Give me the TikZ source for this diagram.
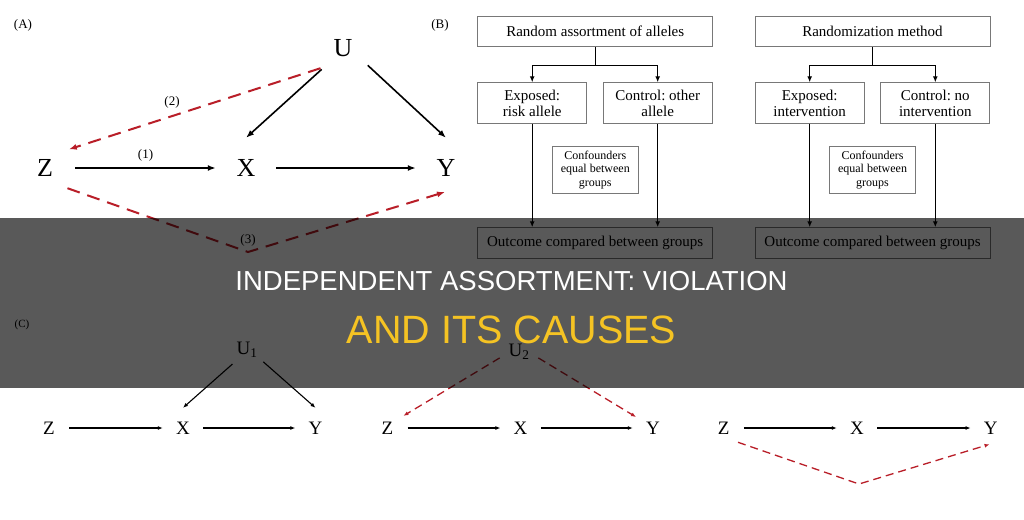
\documentclass[tikz,border=0pt]{standalone}
\usepackage{fontspec}
\setmainfont{Liberation Serif}
\newfontfamily\bannerfont{Liberation Sans}
\usepackage{xcolor}
\usetikzlibrary{arrows.meta}
\definecolor{dashred}{RGB}{185,30,40}
\definecolor{boxgray}{RGB}{120,120,120}
\definecolor{titleyellow}{RGB}{245,195,35}
\frenchspacing

\begin{document}
\begin{tikzpicture}[x=1pt,y=-1pt,
		bigvar/.style={circle,minimum size=60pt,inner sep=0pt,font=\fontsize{26}{26}\selectfont},
		smallvar/.style={circle,minimum size=40pt,inner sep=0pt,font=\fontsize{19}{19}\selectfont},
		tag/.style={inner sep=1pt,text=black,font=\fontsize{13}{13}\selectfont},
		blkarrow/.style={line width=1.6pt,-{Latex[length=8pt,width=6pt]}},
		redarrow/.style={dashred,line width=2pt,dash pattern=on 13pt off 8pt,-{Latex[length=8pt,width=6pt]}},
		thinarrow/.style={line width=1.1pt,-{Latex[length=5pt,width=4pt]}},
		thinred/.style={dashred,line width=1.3pt,dash pattern=on 8pt off 5pt,-{Latex[length=5pt,width=4pt]}},
		flowbox/.style={draw=boxgray,line width=0.8pt,rectangle,inner sep=0pt,align=center,font=\fontsize{15}{16}\selectfont},
		topbox/.style={flowbox,minimum width=235pt,minimum height=30.7pt},
		armbox/.style={flowbox,minimum width=109pt,minimum height=40.6pt},
		notebox/.style={flowbox,minimum width=86pt,minimum height=47.3pt,font=\fontsize{12}{13.6}\selectfont},
		flowarrow/.style={line width=1.3pt,-{Latex[length=6pt,width=5pt]}}]
		
		\useasboundingbox[fill=white] (0,0) rectangle (1024,519);
		
		% (A)
		\node[tag] (labA) at (23,25) {(A)};
		\node[bigvar] (UA) at (343,48) {U};
		\node[bigvar] (ZA) at (45,168) {Z};
		\node[bigvar] (XA) at (246,168) {X};
		\node[bigvar] (YA) at (446,168) {Y};
		\coordinate (vA) at (248,252);
		\coordinate (tipA) at (445,192);
		
		\draw[blkarrow] (ZA) -- node[tag,above=5pt] {(1)} (XA);
		\draw[blkarrow] (XA) -- (YA);
		\draw[blkarrow] (UA.225) -- (XA.90);
		\draw[blkarrow] (UA.-35) -- (YA.90);
		
		\draw[redarrow] (UA.222) -- node[tag,pos=0.59,above=6pt] {(2)} (ZA.38);
		\draw[redarrow] (ZA.-42) -- (vA) node[tag,above=4pt] {(3)} -- (tipA);
		
		% (B)
		\node[tag] (labB) at (440,25) {(B)};
		\node[topbox] (rand1) at (595.2,31.3) {Random assortment of alleles};
		\node[armbox] (exp1) at (532.2,103) {Exposed:\\risk allele};
		\node[armbox] (ctl1) at (657.7,103) {Control: other\\allele};
		\node[notebox] (conf1) at (595.3,169.7) {Confounders\\equal between\\groups};
		\node[topbox] (out1) at (595.2,243) {Outcome compared between groups};
		
		\draw[flowarrow] (rand1.south) -- ++(0,18.3) -| (exp1.north);
		\draw[flowarrow] (rand1.south) -- ++(0,18.3) -| (ctl1.north);
		\draw[flowarrow] (exp1.south) -- (exp1.south |- out1.north);
		\draw[flowarrow] (ctl1.south) -- (ctl1.south |- out1.north);
		
		\node[topbox] (rand2) at (872.5,31.3) {Randomization method};
		\node[armbox] (exp2) at (809.7,103) {Exposed:\\intervention};
		\node[armbox] (ctl2) at (935.3,103) {Control: no\\intervention};
		\node[notebox] (conf2) at (872.5,169.7) {Confounders\\equal between\\groups};
		\node[topbox] (out2) at (872.5,243) {Outcome compared between groups};
		
		\draw[flowarrow] (rand2.south) -- ++(0,18.3) -| (exp2.north);
		\draw[flowarrow] (rand2.south) -- ++(0,18.3) -| (ctl2.north);
		\draw[flowarrow] (exp2.south) -- (exp2.south |- out2.north);
		\draw[flowarrow] (ctl2.south) -- (ctl2.south |- out2.north);
		
		% (C)
		\node[tag,font=\fontsize{11}{11}\selectfont] (labC) at (22,325) {(C)};
		
		\node[smallvar] (UC1) at (247,350) {U\textsubscript{1}};
		\node[smallvar] (ZC1) at (49,428) {Z};
		\node[smallvar] (XC1) at (183,428) {X};
		\node[smallvar] (YC1) at (315.5,428) {Y};
		\draw[thinarrow] (ZC1) -- (XC1);
		\draw[thinarrow] (XC1) -- (YC1);
		\draw[thinarrow] (UC1.224) -- (XC1.90);
		\draw[thinarrow] (UC1.-36) -- (YC1.90);
		
		\node[smallvar] (UC2) at (519,352) {U\textsubscript{2}};
		\node[smallvar] (ZC2) at (387.3,428) {Z};
		\node[smallvar] (XC2) at (520.6,428) {X};
		\node[smallvar] (YC2) at (653,428) {Y};
		\draw[thinarrow] (ZC2) -- (XC2);
		\draw[thinarrow] (XC2) -- (YC2);
		\draw[thinred] (UC2.197) -- (ZC2.37);
		\draw[thinred] (UC2.-17) -- (YC2.147);
		
		\node[smallvar] (ZC3) at (723.7,428) {Z};
		\node[smallvar] (XC3) at (857,428) {X};
		\node[smallvar] (YC3) at (990.8,428) {Y};
		\coordinate (vC) at (859,484);
		\coordinate (tipC) at (989.5,444.3);
		\draw[thinarrow] (ZC3) -- (XC3);
		\draw[thinarrow] (XC3) -- (YC3);
		\draw[thinred] (ZC3.-45) -- (vC) -- (tipC);
		
		% banner
		\fill[black,opacity=0.65] (0,218) rectangle (1024,388);
		\node[text=white,font=\bannerfont\fontsize{27.5}{27.5}\selectfont] (title1) at (511.5,281) {INDEPENDENT ASSORTMENT: VIOLATION};
		\node[text=titleyellow,font=\bannerfont\fontsize{39.5}{39.5}\selectfont] (title2) at (511.5,330) {AND ITS CAUSES};
		
	\end{tikzpicture}
\end{document}
